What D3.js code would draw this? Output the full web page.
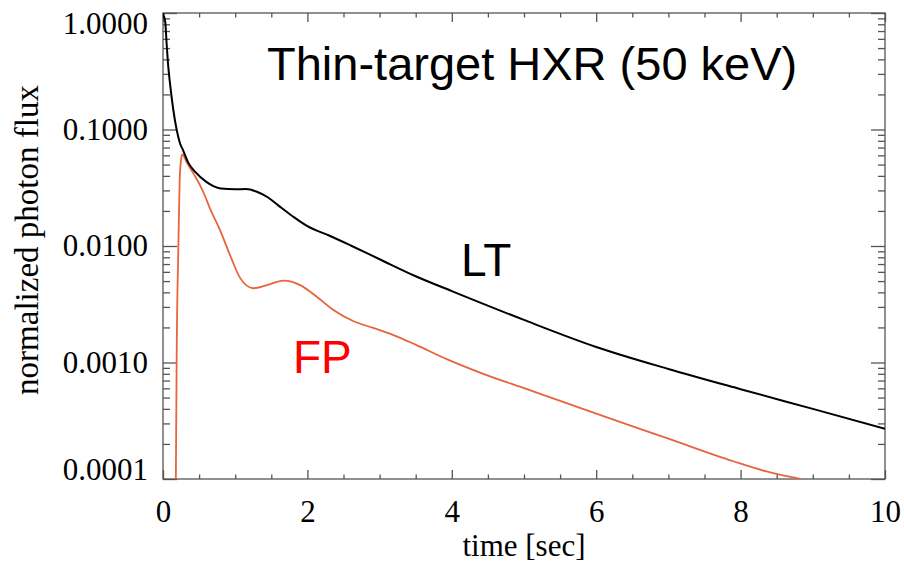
<!DOCTYPE html>
<html>
<head>
<meta charset="utf-8">
<script src="https://cdn.jsdelivr.net/npm/d3@7"></script>
<style>
  body { margin: 0; background: #fff; }
  .axis text { font-family: "Liberation Serif", "Times New Roman", serif; font-size: 31px; fill: #000; }
  .axis line { stroke: #555; stroke-width: 1.3; }
  .axis path { display: none; }
</style>
</head>
<body>
<div id="chart"></div>
<script>
// time [sec] and normalized photon flux
var ltTime = [0, 0.005, 0.03, 0.05, 0.073, 0.097, 0.143, 0.19, 0.235, 0.28, 0.35, 0.45, 0.6, 0.8, 1.0, 1.15, 1.3, 1.45, 1.6, 1.8, 2.0, 2.3, 2.6, 3.0, 3.5, 4.0, 5.0, 6.0, 7.0, 8.0, 9.0, 10];
var ltFlux = [1.0, 0.97, 0.85, 0.55, 0.346, 0.249, 0.147, 0.099, 0.0763, 0.066, 0.052, 0.043, 0.0355, 0.0312, 0.0307, 0.0308, 0.0292, 0.0262, 0.0222, 0.0179, 0.0148, 0.0123, 0.0101, 0.0077, 0.0055, 0.0041, 0.00232, 0.00136, 0.00088, 0.00059, 0.0004, 0.00027];

var fpTime = [0.17, 0.178, 0.19, 0.212, 0.23, 0.25, 0.267, 0.33, 0.42, 0.51, 0.58, 0.65, 0.79, 0.93, 1.07, 1.25, 1.44, 1.67, 1.9, 2.13, 2.36, 2.64, 2.91, 3.19, 3.51, 3.93, 4.39, 5.04, 6.05, 7.0, 7.9, 8.36, 8.9, 9.3];
var fpFlux = [0.00001, 0.0001, 0.00128, 0.00924, 0.035, 0.055, 0.0612, 0.052, 0.042, 0.0335, 0.027, 0.021, 0.0137, 0.0083, 0.0053, 0.00434, 0.00462, 0.00504, 0.00462, 0.00367, 0.00282, 0.00226, 0.00198, 0.00172, 0.00141, 0.00107, 0.00082, 0.00059, 0.000355, 0.000222, 0.000142, 0.000116, 0.0000975, 0.000085];

var xMajor = [0, 2, 4, 6, 8, 10];
var yMajor = [1, 0.1, 0.01, 0.001, 0.0001];

var width = 904, height = 564;
var margin = {top: 13, right: 19, bottom: 85, left: 163};
var w = width - margin.left - margin.right;
var h = height - margin.top - margin.bottom;

var svg = d3.select("#chart").append("svg")
    .attr("width", width)
    .attr("height", height);

var g = svg.append("g")
    .attr("transform", "translate(" + margin.left + "," + margin.top + ")");

var x = d3.scaleLinear().domain([0, 10]).range([0, w]);
var y = d3.scaleLog().domain([0.0001, 1]).range([h, 0]);

var xMinor = d3.range(0, 10.01, 0.5).filter(function (d) { return d % 2 != 0; });
var yMinor = [];
yMajor.slice(1).forEach(function (p) {
    for (var k = 2; k <= 9; k++) yMinor.push(p * k);
});

// ticks pointing inward on all four sides
g.append("g").attr("class", "axis")
    .attr("transform", "translate(0," + h + ")")
    .call(d3.axisBottom(x).tickValues(xMajor).tickSize(-9).tickPadding(21).tickFormat(d3.format("d")));
g.append("g").attr("class", "axis")
    .attr("transform", "translate(0," + h + ")")
    .call(d3.axisBottom(x).tickValues(xMinor).tickSize(-4.5).tickFormat(""));
g.append("g").attr("class", "axis")
    .call(d3.axisTop(x).tickValues(xMajor).tickSize(-9).tickFormat(""));
g.append("g").attr("class", "axis")
    .call(d3.axisTop(x).tickValues(xMinor).tickSize(-4.5).tickFormat(""));

var yAxisG = g.append("g").attr("class", "axis")
    .call(d3.axisLeft(y).tickValues(yMajor).tickSize(-14).tickPadding(15).tickFormat(d3.format(".4f")));
g.append("g").attr("class", "axis")
    .call(d3.axisLeft(y).tickValues(yMinor).tickSize(-7).tickFormat(""));
g.append("g").attr("class", "axis")
    .attr("transform", "translate(" + w + ",0)")
    .call(d3.axisRight(y).tickValues(yMajor).tickSize(-14).tickFormat(""));
g.append("g").attr("class", "axis")
    .attr("transform", "translate(" + w + ",0)")
    .call(d3.axisRight(y).tickValues(yMinor).tickSize(-7).tickFormat(""));

// top and bottom labels sit inside the frame
yAxisG.selectAll(".tick text")
    .attr("y", function (d) {
        if (d == 1) return 11;
        if (d == 0.0001) return -9;
        return 0;
    });

g.append("rect")
    .attr("width", w)
    .attr("height", h)
    .attr("fill", "none")
    .attr("stroke", "#555")
    .attr("stroke-width", 1.3);

g.append("clipPath").attr("id", "clip")
    .append("rect").attr("width", w).attr("height", h);

var line = d3.line()
    .x(function (d) { return x(d[0]); })
    .y(function (d) { return y(d[1]); })
    .curve(d3.curveMonotoneX);

g.append("path")
    .datum(d3.zip(fpTime, fpFlux))
    .attr("clip-path", "url(#clip)")
    .attr("fill", "none")
    .attr("stroke", "#e8643c")
    .attr("stroke-width", 1.8)
    .attr("d", line);

g.append("path")
    .datum(d3.zip(ltTime, ltFlux))
    .attr("clip-path", "url(#clip)")
    .attr("fill", "none")
    .attr("stroke", "#000")
    .attr("stroke-width", 2)
    .attr("d", line);

// titles and labels
svg.append("text")
    .attr("x", 267).attr("y", 80)
    .style("font-family", "'Liberation Sans', Arial, sans-serif")
    .style("font-size", "47px")
    .text("Thin-target HXR (50 keV)");

svg.append("text")
    .attr("x", 461).attr("y", 276)
    .style("font-family", "'Liberation Sans', Arial, sans-serif")
    .style("font-size", "46px")
    .text("LT");

svg.append("text")
    .attr("x", 293).attr("y", 373)
    .style("font-family", "'Liberation Sans', Arial, sans-serif")
    .style("font-size", "46px")
    .style("fill", "#ff0000")
    .text("FP");

svg.append("text")
    .attr("x", margin.left + w / 2).attr("y", 556)
    .attr("text-anchor", "middle")
    .style("font-family", "'Liberation Serif', 'Times New Roman', serif")
    .style("font-size", "31px")
    .text("time [sec]");

svg.append("text")
    .attr("transform", "translate(38," + (margin.top + h / 2 - 6) + ") rotate(-90)")
    .attr("text-anchor", "middle")
    .style("font-family", "'Liberation Serif', 'Times New Roman', serif")
    .style("font-size", "33px")
    .text("normalized photon flux");
</script>
</body>
</html>
